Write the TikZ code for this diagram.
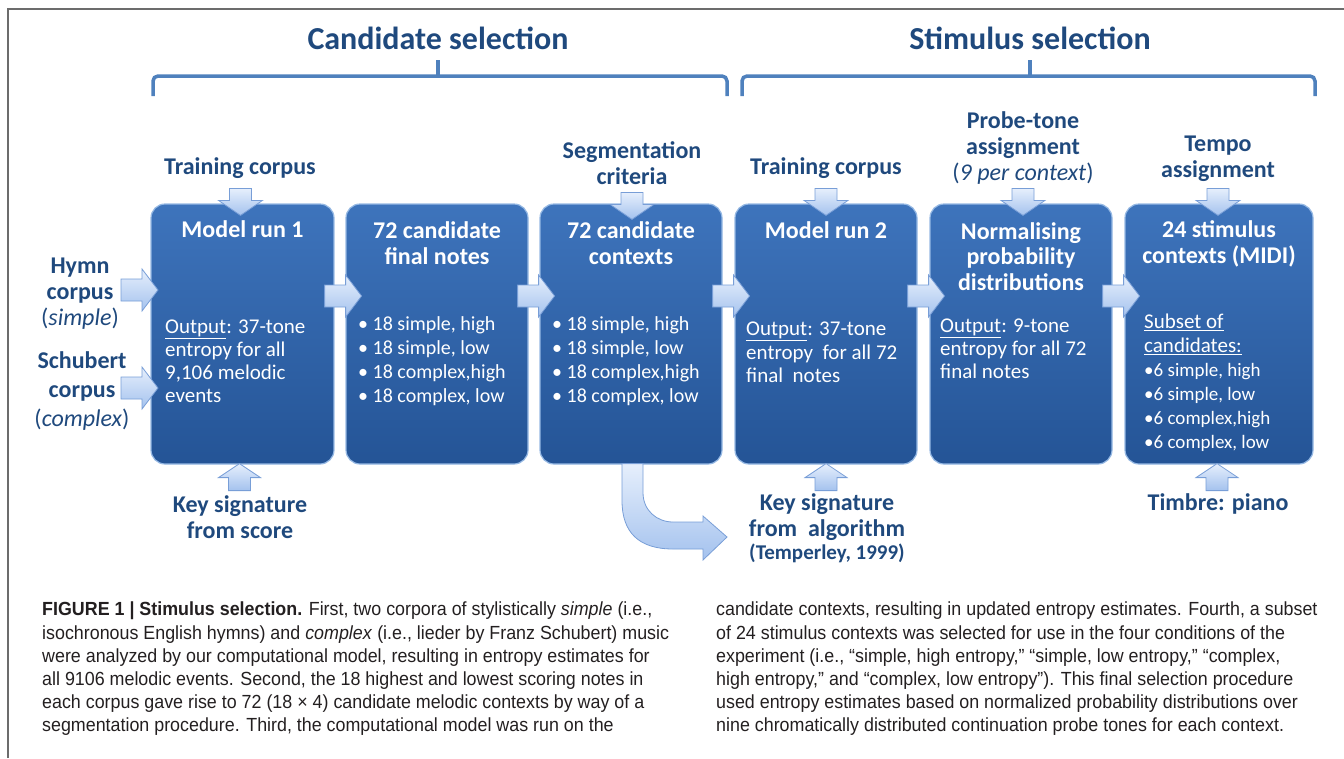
\documentclass[tikz,border=0pt]{standalone}
\usepackage{fontspec}
\setmainfont{Carlito}
\newfontfamily\capfont[FakeStretch=0.94]{Liberation Sans}
\usetikzlibrary{calc}
\definecolor{ttl}{RGB}{31,73,125}
\definecolor{brc}{RGB}{79,129,189}
\definecolor{boxtop}{RGB}{62,116,188}
\definecolor{boxbot}{RGB}{36,84,150}
\definecolor{boxedge}{RGB}{150,185,228}
\definecolor{arrtop}{RGB}{230,239,252}
\definecolor{arrbot}{RGB}{164,194,238}
\definecolor{arredge}{RGB}{120,158,215}
\definecolor{capcol}{RGB}{35,31,32}
\tikzset{
  bx/.style={draw=boxedge, line width=1.2pt, rounded corners=14pt, top color=boxtop, bottom color=boxbot, inner sep=0pt, minimum height=260pt},
  blk/.style={draw=arredge, line width=0.8pt, top color=arrtop, bottom color=arrbot},
  lbl/.style={text=ttl, font=\fontsize{24}{26}\selectfont\bfseries, align=center, inner sep=0pt},
  btitle/.style={text=white, font=\fontsize{24}{26}\selectfont\bfseries, align=center, inner sep=0pt},
  bbody/.style={text=white, font=\fontsize{21}{23}\selectfont, align=left, inner sep=0pt, anchor=west},
  bcap/.style={text=capcol, font=\capfont\fontsize{19}{23.2}\selectfont, align=left, inner sep=0pt, anchor=west},
  brace/.style={draw=brc, line width=3.5pt, rounded corners=5pt},
  darrow/.pic={\path[blk] (-11,0) -- (11,0) -- (11,12) -- (22,12) -- (0,27) -- (-22,12) -- (-11,12) -- cycle;},
  uarrow/.pic={\path[blk] (-11,0) -- (11,0) -- (11,-13) -- (21,-13) -- (0,-27) -- (-21,-13) -- (-11,-13) -- cycle;},
  rarrow/.pic={\path[blk] (0,-11) -- (21,-11) -- (21,-21) -- (37,0) -- (21,21) -- (21,11) -- (0,11) -- cycle;}
}
\begin{document}
\begin{tikzpicture}[x=1pt,y=-1pt]
\useasboundingbox (0,0) rectangle (1344,758);
\draw[gray!85!black, line width=1.2pt] (8,758) -- (8,9) -- (1344,9);

% section headings and braces
\node[lbl, font=\fontsize{32}{34}\selectfont\bfseries] (hcand) at (438,38) {Candidate selection};
\node[lbl, font=\fontsize{32}{34}\selectfont\bfseries] (hstim) at (1030,38) {Stimulus selection};
\draw[brace] (153,96) -- (153,76) -- (727,76) -- (727,96);
\draw[draw=brc, line width=3.5pt] (438,77) -- (438,60);
\draw[brace] (742,96) -- (742,76) -- (1315,76) -- (1315,96);
\draw[draw=brc, line width=3.5pt] (1030,77) -- (1030,60);

% boxes
\node[bx, minimum width=183pt] (b1) at (242.5,334) {};
\node[bx, minimum width=182pt] (b2) at (437,334) {};
\node[bx, minimum width=182pt] (b3) at (631,334) {};
\node[bx, minimum width=182pt] (b4) at (826,334) {};
\node[bx, minimum width=182pt] (b5) at (1021,334) {};
\node[bx, minimum width=188pt] (b6) at (1219,334) {};

% box titles
\node[btitle] (t1) at (242.5,229) {Model run 1};
\node[btitle] (t2) at (437,243) {72 candidate\\final notes};
\node[btitle] (t3) at (631,243) {72 candidate\\contexts};
\node[btitle] (t4) at (826,230) {Model run 2};
\node[btitle, font=\fontsize{24}{25.5}\selectfont\bfseries] (t5) at (1021,256.5) {Normalising\\probability\\distributions};
\node[btitle] (t6) at (1219,244) {24 stimulus\\contexts (MIDI)};

% box bodies
\node[bbody] (o1) at (165,361.5) {\underline{Output}: 37-tone\\entropy for all\\9,106 melodic\\events};
\node[bbody, font=\fontsize{20}{24}\selectfont] (o2) at (358,361) {\textbullet\ 18 simple, high\\\textbullet\ 18 simple, low\\\textbullet\ 18 complex,high\\\textbullet\ 18 complex, low};
\node[bbody, font=\fontsize{20}{24}\selectfont] (o3) at (552,361) {\textbullet\ 18 simple, high\\\textbullet\ 18 simple, low\\\textbullet\ 18 complex,high\\\textbullet\ 18 complex, low};
\node[bbody, font=\fontsize{21}{23.5}\selectfont] (o4) at (746,352.5) {\underline{Output}: 37-tone\\entropy\ \ for all 72\\final\ \ notes};
\node[bbody] (o5) at (940,349) {\underline{Output}: 9-tone\\entropy for all 72\\final notes};
\node[bbody, font=\fontsize{19}{24}\selectfont] (o6) at (1144,383) {{\fontsize{21}{24}\selectfont\underline{Subset of}}\\{\fontsize{21}{24}\selectfont\underline{candidates:}}\\\textbullet 6 simple, high\\\textbullet 6 simple, low\\\textbullet 6 complex,high\\\textbullet 6 complex, low};

% outside labels
\node[lbl] (tc1) at (240,168) {Training corpus};
\node[lbl] (hymn) at (80,294) {Hymn\\corpus\\{\mdseries(\textit{simple})}};
\node[lbl, font=\fontsize{24}{29}\selectfont\bfseries] (schub) at (82,391) {Schubert\\corpus\\{\mdseries(\textit{complex})}};
\node[lbl] (ks1) at (240,517) {Key signature\\from score};
\node[lbl] (seg) at (632,163) {Segmentation\\criteria};
\node[lbl] (tc2) at (826,168) {Training corpus};
\node[lbl] (ks2) at (827,517) {Key signature\\from\ \ algorithm};
\node[lbl, font=\fontsize{21}{23}\selectfont\bfseries] (temp) at (827,553) {(Temperley, 1999)};
\node[lbl] (probe) at (1023,148) {Probe-tone\\assignment\\{\mdseries(\textit{9 per context})}};
\node[lbl] (tempo) at (1218,159) {Tempo\\assignment};
\node[lbl] (timbre) at (1218,504) {Timbre: piano};

% block arrows into boxes
\pic at ($(b1.north)+(-2,-15)$) {darrow};
\pic at ($(b3.north)+(1,-11)$) {darrow};
\pic at ($(b4.north)+(0,-15)$) {darrow};
\pic at ($(b5.north)+(2,-15)$) {darrow};
\pic at ($(b6.north)+(-1,-15)$) {darrow};
\pic at ($(b1.south)+(-3,26)$) {uarrow};
\pic at ($(b4.south)+(0,26)$) {uarrow};
\pic at ($(b6.south)+(-2,26)$) {uarrow};
\pic at (121,290) {rarrow};
\pic at (121,388) {rarrow};
\pic at ($(b1.east)+(-10,-38)$) {rarrow};
\pic at ($(b2.east)+(-11,-38)$) {rarrow};
\pic at ($(b3.east)+(-10,-38)$) {rarrow};
\pic at ($(b4.east)+(-10,-38)$) {rarrow};
\pic at ($(b5.east)+(-10,-38)$) {rarrow};

% curved arrow from box 3 to the key-signature algorithm
\coordinate (cstart) at ($(b3.south)+(-9,0)$);
\coordinate (ctip) at (727,537);
\path[blk] (cstart) ++(0,-1) -- ++(0,37)
  .. controls +(0,32) and +(-34,0) .. ($(ctip)+(-54,12)$)
  -- ($(ctip)+(-24,12)$) -- ($(ctip)+(-24,23)$) -- (ctip)
  -- ($(ctip)+(-24,-21)$) -- ($(ctip)+(-24,-15)$) -- ($(ctip)+(-54,-15)$)
  .. controls +(-16,0) and +(0,18) .. ($(cstart)+(21,28)$)
  -- ($(cstart)+(21,-1)$) -- cycle;

% caption
\node[bcap] (capl) at (42,669) {\textbf{FIGURE 1 | Stimulus selection.} First, two corpora of stylistically \textit{simple} (i.e.,\\isochronous English hymns) and \textit{complex} (i.e., lieder by Franz Schubert) music\\were analyzed by our computational model, resulting in entropy estimates for\\all 9106 melodic events. Second, the 18 highest and lowest scoring notes in\\each corpus gave rise to 72 (18 × 4) candidate melodic contexts by way of a\\segmentation procedure. Third, the computational model was run on the};
\node[bcap] (capr) at (716,669) {candidate contexts, resulting in updated entropy estimates. Fourth, a subset\\of 24 stimulus contexts was selected for use in the four conditions of the\\experiment (i.e., “simple, high entropy,” “simple, low entropy,” “complex,\\high entropy,” and “complex, low entropy”). This final selection procedure\\used entropy estimates based on normalized probability distributions over\\nine chromatically distributed continuation probe tones for each context.};
\end{tikzpicture}
\end{document}
